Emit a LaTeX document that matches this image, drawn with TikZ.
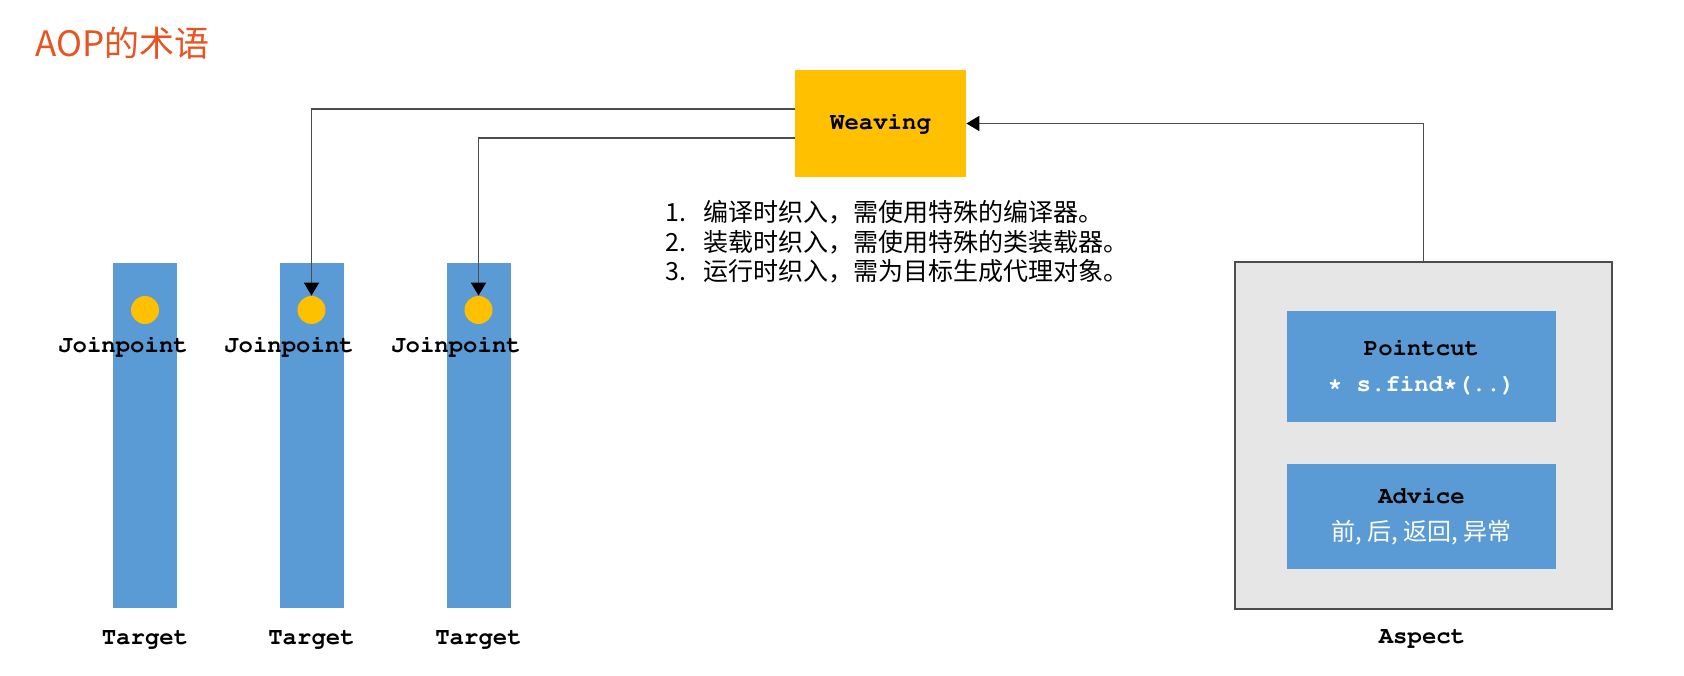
\documentclass[tikz,border=0pt]{standalone}
\usepackage{fontspec}
\usepackage[T1,TU]{fontenc}
\newfontfamily\cjk{Noto Sans CJK SC}
\newcommand\courb{\fontencoding{T1}\fontfamily{pcr}\fontseries{b}\selectfont}
\usepackage{tikz}
\usetikzlibrary{arrows.meta}
\definecolor{barblue}{HTML}{5B9BD5}
\definecolor{gold}{HTML}{FFC000}
\definecolor{aspectgray}{HTML}{E7E6E6}
\definecolor{titleorange}{HTML}{E8531F}
\definecolor{linegray}{HTML}{4D4D4D}

\begin{document}
\begin{tikzpicture}[x=0.5pt, y=0.5pt,
    target/.style={rectangle, fill=barblue, minimum width=32pt, minimum height=172.5pt, inner sep=0pt},
    joint/.style={circle, fill=gold, minimum size=14pt, inner sep=0pt},
    code/.style={font=\fontsize{12pt}{14pt}\courb, inner sep=0pt},
    listline/.style={font=\cjk\fontsize{12.5pt}{15pt}\selectfont, inner sep=0pt},
    part/.style={rectangle, fill=barblue, minimum width=134.5pt, align=center, inner sep=0pt},
    link/.style={draw=linegray, line width=0.9pt, -{Triangle[width=7.5pt, length=6.5pt, color=black]}}]
            \useasboundingbox (0,0) rectangle (1684,675);

            % title
            \node[anchor=base west, text=titleorange, inner sep=0pt,
                  font=\cjk\fontsize{17.5pt}{20pt}\selectfont] (title) at (35,618) {AOP的术语};

            % targets
            \node[target] (t1) at (145,239.5) {};
            \node[target] (t2) at (311.5,239.5) {};
            \node[target] (t3) at (478.5,239.5) {};
            \node[code, anchor=base] (n1) at (145,31) {Target};
            \node[code, anchor=base] (n2) at (311.5,31) {Target};
            \node[code, anchor=base] (n3) at (478.5,31) {Target};

            % joinpoints
            \node[joint] (d1) at (145,365) {};
            \node[joint] (d2) at (311.5,365) {};
            \node[joint] (d3) at (478.5,365) {};
            \node[code, anchor=base] (j1) at (123,322) {Joinpoint};
            \node[code, anchor=base] (j2) at (289,322) {Joinpoint};
            \node[code, anchor=base] (j3) at (456,322) {Joinpoint};

            % weaving
            \node[rectangle, fill=gold, minimum width=85.5pt, minimum height=53.5pt, code] (weave) at (880.5,551.5) {Weaving};
            \node[listline, anchor=base west] (s1) at (665,453) {\makebox[19pt][l]{1.}编译时织入，需使用特殊的编译器。};
            \node[listline, anchor=base west] (s2) at (665,423.5) {\makebox[19pt][l]{2.}装载时织入，需使用特殊的类装载器。};
            \node[listline, anchor=base west] (s3) at (665,394) {\makebox[19pt][l]{3.}运行时织入，需为目标生成代理对象。};

            % aspect
            \node[rectangle, fill=aspectgray, draw=linegray, line width=0.8pt, minimum width=188.5pt, minimum height=173.5pt] (aspect) at (1423.5,239.5) {};
            \node[part, minimum height=55.5pt, code, font=\fontsize{12pt}{18pt}\courb] (pointcut) at (1421.5,308.5)
                {Pointcut\\\textcolor{white}{* s.find*(..)}};
            \node[part, minimum height=52.5pt, code, font=\fontsize{12pt}{18.5pt}\courb] (advice) at (1421.5,158.5)
                {Advice\\{\cjk\mdseries\color{white}前, 后, 返回, 异常}};
            \node[code, anchor=base] (a1) at (1422,32) {Aspect};

            % connectors
            \draw[link] ([yshift=7.25pt]weave.west) -| (d2.north);
            \draw[link] ([yshift=-7.25pt]weave.west) -| (d3.north);
            \draw[link] (aspect.north) |- (weave.east);
        \end{tikzpicture}
\end{document}
